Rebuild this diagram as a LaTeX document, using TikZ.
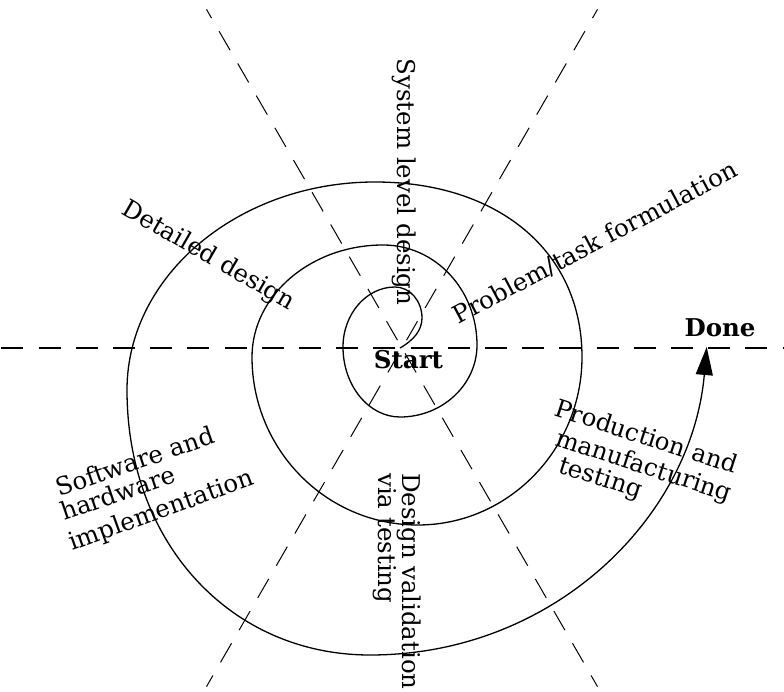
\documentclass[tikz,border=0pt]{standalone}
\usepackage{fontspec}
\setmainfont{DejaVu Serif}
\usetikzlibrary{arrows.meta}

\newcommand{\phasefont}{\fontsize{24.5}{29}\selectfont}

\tikzset{
  guide/.style={draw, line width=1pt, dash pattern=on 22pt off 15.2pt},
  axisline/.style={guide, line width=2pt, dash phase=35.8pt},
  diagline/.style={guide, dash phase=12pt},
  phase/.style={font=\phasefont, inner sep=0pt},
  endpoint/.style={font=\phasefont\bfseries, inner sep=0pt},
  spiralpath/.style={line width=1.3pt, -{Triangle[length=28pt,width=17pt]}},
}

\begin{document}
\begin{tikzpicture}[x=1pt, y=-1pt]
  \useasboundingbox (0,0) rectangle (784,692);

  % centre of the spiral and the six phase boundaries
  \coordinate (c) at (402,348);
  \coordinate (h-west) at (0,348);
  \coordinate (h-east) at (784,348);
  \path (c) ++(240:391) coordinate (d1-top);
  \path (c) ++(60:391)  coordinate (d1-bot);
  \path (c) ++(300:391) coordinate (d2-top);
  \path (c) ++(120:391) coordinate (d2-bot);

  \draw[axisline] (h-west) -- (h-east);
  \draw[diagline] (d1-top) -- (d1-bot);
  \draw[diagline] (d2-top) -- (d2-bot);

  % phase names
  \node[phase, rotate=-90, anchor=base] (sysdesign) at (397,182) {System level design};
  \node[phase, rotate=-30, anchor=base] (detdesign) at (205,262) {Detailed design};
  \node[phase, rotate=28, anchor=base] (problem) at (599,250) {Problem/task formulation};

  \node[phase, rotate=-90, anchor=base west] (valid1) at (402,473) {Design validation};
  \node[phase, rotate=-90, anchor=base west] (valid2) at (378,473) {via testing};

  \node[phase, rotate=19, anchor=base west] (sw1) at (59,497) {Software and};
  \node[phase, rotate=19, anchor=base west] (sw2) at (64,521) {hardware};
  \node[phase, rotate=20, anchor=base west] (sw3) at (72,551) {implementation};

  \node[phase, rotate=-18, anchor=base west] (prod1) at (553,415) {Production and};
  \node[phase, rotate=-18, anchor=base west] (prod2) at (554,445) {manufacturing};
  \node[phase, rotate=-18, anchor=base west] (prod3) at (557,472) {testing};

  % start and end of the spiral
  \node[endpoint, anchor=base] (start) at (408.5,368) {Start};
  \node[endpoint, anchor=base] (done) at (720,337) {Done};
  \coordinate (spiral-in) at (400,348);
  \coordinate (spiral-out) at (706.7,347);

  % turning points of the spiral (top, left, bottom, right of each turn)
  \coordinate (r-curl) at (422,318);
  \coordinate (t0) at (395,287);
  \coordinate (l0) at (343,347);
  \coordinate (b0) at (400,417);
  \coordinate (r0) at (477,345);
  \coordinate (t1) at (383,245);
  \coordinate (l1) at (252,357);
  \coordinate (b1) at (418,525);
  \coordinate (r1) at (582,357);
  \coordinate (t2) at (375,182);
  \coordinate (l2) at (127,390);
  \coordinate (b2) at (370,655);

  \draw[spiralpath] (spiral-in)
    .. controls (414,340) and (422,330) .. (r-curl)
    .. controls (422,301) and (410,287) .. (t0)
    .. controls (366.4,287) and (343,314) .. (l0)
    .. controls (343,385.5) and (368.6,417) .. (b0)
    .. controls (442.4,417) and (477,384.6) .. (r0)
    .. controls (477,290) and (435.6,245) .. (t1)
    .. controls (311,245) and (252,295.4) .. (l1)
    .. controls (252,448.9) and (325.4,525) .. (b1)
    .. controls (508.2,525) and (582,449.4) .. (r1)
    .. controls (582,252) and (499,182) .. (t2)
    .. controls (238.6,182) and (127,275.6) .. (l2)
    .. controls (127,543.7) and (231.2,655) .. (b2)
    .. controls (555,655) and (692,516) .. (spiral-out);
\end{tikzpicture}
\end{document}
